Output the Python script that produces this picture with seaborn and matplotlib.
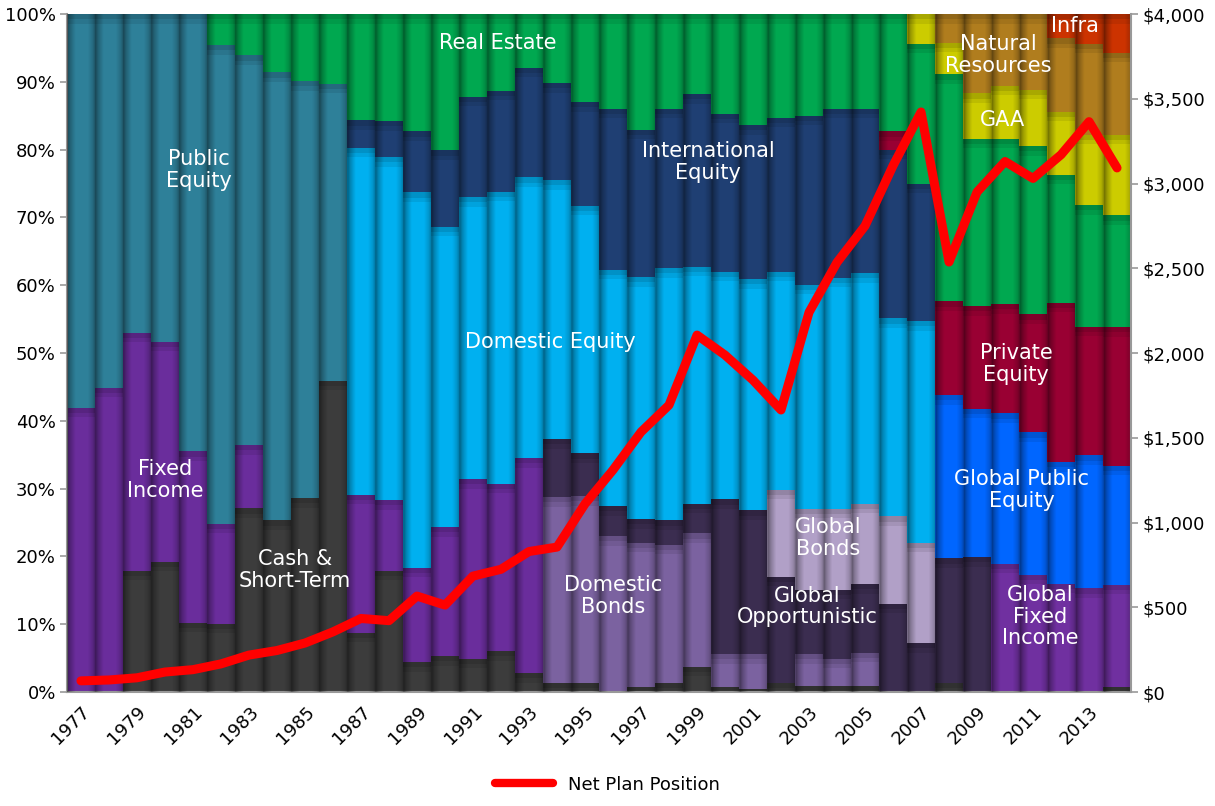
import numpy as np
import matplotlib
matplotlib.use("Agg")
import matplotlib.pyplot as plt
import seaborn as sns
from matplotlib.lines import Line2D

# Asset allocation (% of plan) by year
years = list(range(1977, 2015))

cash = [0, 0, 17.9, 19.2, 10.2, 10.1, 27.1, 25.3, 28.6, 45.9,
        8.75, 17.9, 4.4, 5.3, 4.9, 6.05, 2.8,
        1.3, 1.3, 0.1, 0.8, 1.4, 3.75, 0.7, 0.5, 1.3, 0.9, 0.9, 0.9,
        0, 0, 1.3, 0, 0, 0, 0, 0, 0.7]
fixed_income = [41.9, 44.9, 35.1, 32.5, 25.3, 14.7, 9.3, 0, 0, 0,
                20.35, 10.4, 13.9, 19.0, 26.5, 24.65, 31.7] + [0] * 21
domestic_bonds = [0] * 17 + [27.45, 27.6, 22.9, 21.2, 20.3, 19.65, 4.9, 5.1, 0, 4.7, 4.0, 4.9] + [0] * 9
global_opp = [0] * 17 + [8.55, 6.3, 4.4, 3.5, 3.6, 4.4, 22.8, 21.2, 15.7, 9.5, 10.2, 10.1,
                         13.0, 7.2, 18.4, 19.9, 0, 0, 0, 0, 0]
global_fixed_income = [0] * 33 + [18.9, 17.3, 16.0, 15.3, 15.1]
global_bonds = [0] * 25 + [12.8, 11.9, 11.9, 11.9, 12.9, 14.8] + [0] * 7
global_public_equity = [0] * 31 + [24.1, 21.9, 22.2, 21.0, 17.9, 19.6, 17.6]
domestic_equity = [0] * 10 + [51.2, 50.6, 55.4, 44.3, 41.6, 43.1, 41.4,
                              38.2, 36.5, 34.9, 35.7, 37.2, 34.9, 33.6, 34.1, 32.2, 33.1, 34.1, 34.0,
                              29.2, 32.7] + [0] * 7
public_equity = [58.1, 55.1, 47.0, 48.3, 64.5, 70.6, 57.5, 66.1, 61.5, 43.8] + [0] * 28
intl_equity = [0] * 10 + [4.0, 5.3, 9.0, 11.3, 14.8, 14.9, 16.2,
                          14.3, 15.3, 23.7, 21.7, 23.5, 25.5, 23.3, 22.7, 22.7, 24.9, 24.9, 24.2,
                          24.9, 20.3] + [0] * 7
private_equity = [0] * 29 + [2.7, 0, 13.8, 15.1, 16.1, 17.4, 23.5, 19.0, 20.4]
real_estate = [0, 0, 0, 0, 0, 4.6, 6.1, 8.6, 9.9, 10.3,
               15.7, 15.8, 17.3, 20.1, 12.2, 11.3, 7.9,
               10.2, 13.0, 14.0, 17.1, 14.0, 11.8, 14.7, 16.4, 15.3, 15.0, 14.0, 14.0,
               17.3, 20.6, 33.5, 24.7, 24.4, 24.8, 18.9, 17.9, 16.5]
gaa = [0] * 30 + [4.4, 4.7, 6.7, 7.8, 8.3, 9.3, 10.4, 11.9]
natural_resources = [0] * 31 + [4.2, 11.7, 10.6, 11.2, 10.8, 13.4, 12.1]
infra = [0] * 35 + [3.6, 4.4, 5.7]

# Net plan position ($ millions), right axis
net_plan_position = [66, 71, 84, 118, 132, 166, 218, 245, 289, 355,
                     434, 421, 566, 513, 684, 724, 829, 855,
                     1110, 1310, 1534, 1693, 2106, 1988, 1840, 1664, 2240, 2535, 2750, 3105,
                     3422, 2537, 2950, 3130, 3030, 3170, 3365, 3092]

stack = [
    (cash, "#3c3c3c"),
    (fixed_income, "#6a2d9c"),
    (domestic_bonds, "#7b62a0"),
    (global_opp, "#3b2d50"),
    (global_fixed_income, "#7030a0"),
    (global_bonds, "#b1a0c7"),
    (global_public_equity, "#0066ff"),
    (domestic_equity, "#00b0f0"),
    (public_equity, "#2e8099"),
    (intl_equity, "#1f3f73"),
    (private_equity, "#990033"),
    (real_estate, "#00a850"),
    (gaa, "#cccc00"),
    (natural_resources, "#b07d1e"),
    (infra, "#cc3300"),
]

labels = [
    ("Public\nEquity", 4.2, 77),
    ("Fixed\nIncome", 3.0, 31.3),
    ("Cash &\nShort-Term", 7.65, 18),
    ("Real Estate", 14.9, 95.7),
    ("Domestic Equity", 16.75, 51.6),
    ("International\nEquity", 22.4, 78.2),
    ("Domestic\nBonds", 19.0, 14.2),
    ("Global\nBonds", 26.7, 22.7),
    ("Global\nOpportunistic", 25.95, 12.6),
    ("Natural\nResources", 32.75, 94.0),
    ("Infra", 35.5, 98.2),
    ("GAA", 32.9, 84.4),
    ("Private\nEquity", 33.4, 48.4),
    ("Global Public\nEquity", 33.6, 29.8),
    ("Global\nFixed\nIncome", 34.25, 11.1),
]

sns.set_theme(style="white")
plt.rcParams['font.family'] = ['DejaVu Sans']

fig = plt.figure(figsize=(12.15, 8.06), dpi=100)
ax = fig.add_axes([0.0551, 0.1414, 0.8758, 0.8412])

x = np.arange(len(years))
bottom = np.zeros(len(years))
for vals, col in stack:
    vals = np.array(vals, dtype=float)
    ax.bar(x, vals, width=1.0, bottom=bottom, color=col, edgecolor='none', linewidth=0, zorder=2)
    # soft shadow under each segment top
    for frac, a in [(1.0, 0.08), (0.55, 0.1)]:
        sh = np.where(vals > 0, np.minimum(vals, 1.4 * frac), 0)
        ax.bar(x, sh, width=1.0, bottom=bottom + vals - sh, color='black', alpha=a,
               edgecolor='none', linewidth=0, zorder=2.5)
    bottom += vals

# cylinder-like shading across each bar
prof = np.linspace(0, 1, 40)
alpha = np.interp(prof, [0, 0.1, 0.3, 0.75, 0.92, 1], [0.45, 0.25, 0.0, 0.0, 0.15, 0.3])
row = np.tile(alpha, len(years))
img = np.zeros((1, row.size, 4))
img[..., 3] = row
ax.imshow(img, extent=(-0.5, len(years) - 0.5, 0, 100), aspect='auto',
          interpolation='bilinear', zorder=3)

for txt, lx, ly in labels:
    ax.text(lx, ly, txt, color='white', fontsize=15, ha='center', va='center',
            linespacing=1.1, zorder=4)

ax.set_xlim(-0.5, len(years) - 0.5)
ax.set_ylim(0, 100)
ax.set_yticks(range(0, 101, 10))
ax.set_yticklabels([f"{v}%" for v in range(0, 101, 10)], fontsize=13, color='black')
ax.set_xticks(x[::2])
ax.set_xticklabels([str(y) for y in years[::2]], fontsize=13, rotation=45, color='black',
                   ha='right', rotation_mode='anchor')
ax.set_xticks(np.arange(-0.5, len(years), 1), minor=True)
ax.tick_params(axis='x', which='major', length=0, pad=8)
ax.tick_params(axis='x', which='minor', length=5, color='#999999', width=1.2)
ax.tick_params(axis='y', length=5, color='#999999', width=1.2, left=True, pad=3)
for s in ['top', 'right']:
    ax.spines[s].set_visible(False)
for s in ['left', 'bottom']:
    ax.spines[s].set_color('#999999')
    ax.spines[s].set_linewidth(1.5)

ax2 = ax.twinx()
sns.lineplot(x=x, y=net_plan_position, ax=ax2, color='#ff0000', lw=6.5,
             solid_capstyle='round', solid_joinstyle='round', zorder=5)
ax2.set_ylim(0, 4000)
ax2.set_yticks(range(0, 4001, 500))
ax2.set_yticklabels([f"${v:,}" for v in range(0, 4001, 500)], fontsize=13, color='black')
ax2.tick_params(axis='y', length=5, color='#999999', width=1.2, right=True, pad=3)
for s in ['top', 'left', 'bottom']:
    ax2.spines[s].set_visible(False)
ax2.spines['right'].set_color('#999999')
ax2.spines['right'].set_linewidth(1.5)
ax2.set_xlim(-0.5, len(years) - 0.5)

handle = Line2D([0], [0], color='#ff0000', lw=6)
leg = fig.legend([handle], ["Net Plan Position"], loc='lower center', bbox_to_anchor=(0.5, -0.005),
                 frameon=False, fontsize=13, handlelength=3.2)
for t in leg.get_texts():
    t.set_color('black')

fig.savefig("out.png", dpi=100)
